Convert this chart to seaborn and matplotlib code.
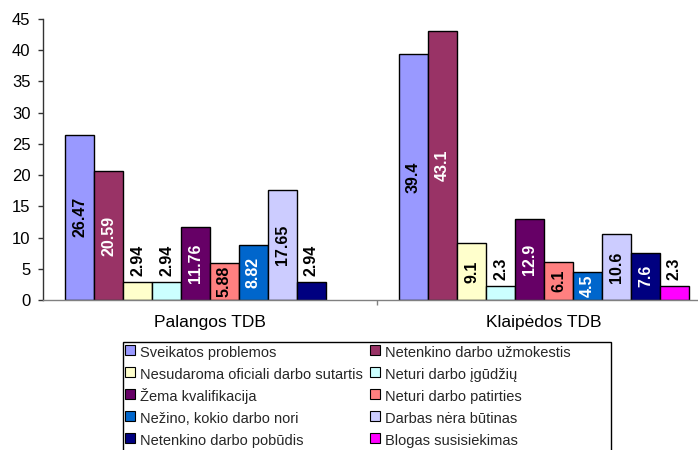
import numpy as np
import pandas as pd
import matplotlib
matplotlib.use("Agg")
import matplotlib.pyplot as plt
import seaborn as sns
from matplotlib.lines import Line2D
from matplotlib.patches import Rectangle
from matplotlib.ticker import FixedLocator

sns.set_theme(style="white")
plt.rcParams['font.family'] = ['Liberation Sans', 'DejaVu Sans']

categories = ["Palangos TDB", "Klaipėdos TDB"]
series = [
    "Sveikatos problemos",
    "Netenkino darbo užmokestis",
    "Nesudaroma oficiali darbo sutartis",
    "Neturi darbo įgūdžių",
    "Žema kvalifikacija",
    "Neturi darbo patirties",
    "Nežino, kokio darbo nori",
    "Darbas nėra būtinas",
    "Netenkino darbo pobūdis",
    "Blogas susisiekimas",
]
palangos = [26.47, 20.59, 2.94, 2.94, 11.76, 5.88, 8.82, 17.65, 2.94, None]
klaipedos = [39.4, 43.1, 9.1, 2.3, 12.9, 6.1, 4.5, 10.6, 7.6, 2.3]
colors = ["#9999FF", "#993366", "#FFFFCC", "#CCFFFF", "#660066",
          "#FF8080", "#0066CC", "#CCCCFF", "#000080", "#FF00FF"]
label_colors = ["black", "white", "black", "black", "white",
                "black", "white", "black", "white", "black"]
label_texts = {
    "Palangos TDB": ["26.47", "20.59", "2.94", "2.94", "11.76", "5.88", "8.82", "17.65", "2.94", ""],
    "Klaipėdos TDB": ["39.4", "43.1", "9.1", "2.3", "12.9", "6.1", "4.5", "10.6", "7.6", "2.3"],
}

rows = []
for cat, vals in zip(categories, [palangos, klaipedos]):
    for s, v in zip(series, vals):
        if v is not None:
            rows.append({"cat": cat, "series": s, "value": v})
df = pd.DataFrame(rows)

W, H = 698, 450
fig = plt.figure(figsize=(W / 100, H / 100), dpi=100)
ax_left, ax_right, ax_top, ax_bottom = 43, 698, 19, 300
cat_px = 334.0
ax = fig.add_axes([ax_left / W, 1 - ax_bottom / H, (ax_right - ax_left) / W, (ax_bottom - ax_top) / H])

sns.barplot(data=df, x="cat", y="value", hue="series", order=categories,
            hue_order=series, palette=colors, width=0.868, dodge=True,
            edgecolor="black", linewidth=1.0, errorbar=None, legend=False,
            saturation=1, ax=ax)

ax.set_xlim(-0.5, -0.5 + (ax_right - ax_left) / cat_px)
ax.set_ylim(0, 45)
ax.set_yticks(np.arange(0, 46, 5))
ax.set_xlabel("")
ax.set_ylabel("")

# Labels on bars
for i, s in enumerate(series):
    cont = ax.containers[i]
    sub = df[df["series"] == s]
    for patch, (_, r) in zip(cont.patches, sub.iterrows()):
        v = r["value"]
        txt = label_texts[r["cat"]][i]
        if not txt:
            continue
        xc = patch.get_x() + patch.get_width() / 2
        if v >= 4:
            ax.annotate(txt, (xc, v / 2), ha="center", va="center", rotation=90,
                        fontsize=11.5, fontweight="bold", color=label_colors[i])
        else:
            ax.annotate(txt, (xc, v), xytext=(0, 4), textcoords="offset points",
                        ha="center", va="bottom", rotation=90,
                        fontsize=11.5, fontweight="bold", color="black")

for side in ["top", "right"]:
    ax.spines[side].set_visible(False)
ax.spines["left"].set_color("#333333")
ax.spines["bottom"].set_color("#808080")
ax.spines["left"].set_linewidth(1.0)
ax.spines["bottom"].set_linewidth(1.0)

ax.tick_params(axis="y", which="major", direction="out", length=3.6, width=1,
               color="#333333", pad=5.5, labelsize=12, left=True)
ax.tick_params(axis="x", which="major", length=0, pad=11, labelsize=12.5)
ax.xaxis.set_minor_locator(FixedLocator([0.5]))
ax.tick_params(axis="x", which="minor", direction="out", length=3.6, width=1,
               color="#808080", bottom=True)
for lab in ax.get_yticklabels() + ax.get_xticklabels():
    lab.set_color("black")

# legend frame (Excel style, extends past bottom edge)
frame = Rectangle((123 / W, -0.1), (611 - 123) / W, (H - 342) / H + 0.1,
                  transform=fig.transFigure, facecolor="white", edgecolor="black",
                  linewidth=1.0, zorder=1)
fig.patches.append(frame)

# legend: row-wise order (matplotlib fills column-first)
order = list(range(0, len(series), 2)) + list(range(1, len(series), 2))
handles = [Line2D([], [], linestyle="none", marker="s", markersize=7,
                  markerfacecolor=colors[k], markeredgecolor="black",
                  markeredgewidth=0.8) for k in order]
labels = [series[k] for k in order]
leg = fig.legend(handles, labels, loc="upper left",
                 bbox_to_anchor=(124 / W, 1 - 343 / H), ncol=2,
                 fontsize=10.5, frameon=False,
                 borderaxespad=0, borderpad=0.05, labelspacing=0.35,
                 handlelength=0.75, handleheight=1.4, handletextpad=0.3,
                 columnspacing=0.45)
leg.set_zorder(2)

fig.savefig("out.png", dpi=100)
